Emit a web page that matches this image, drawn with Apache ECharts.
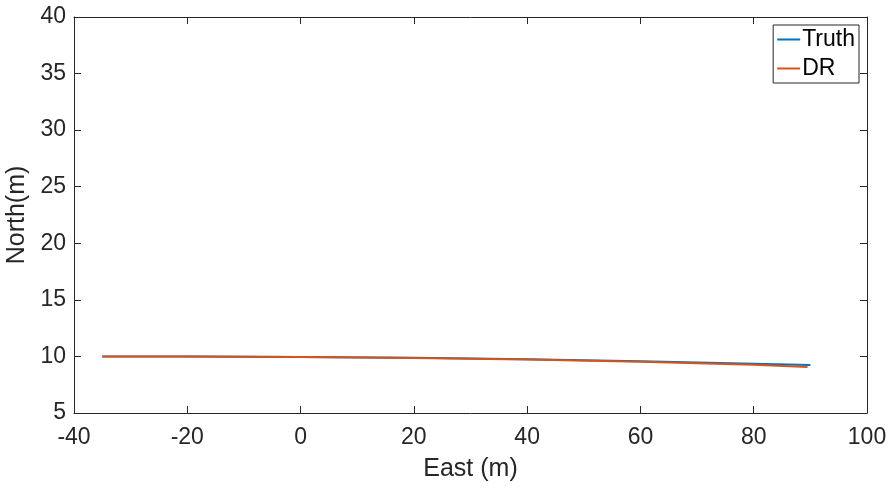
<!DOCTYPE html>
<html>
<head>
<meta charset="utf-8">
<script src="https://cdn.jsdelivr.net/npm/echarts@6/dist/echarts.min.js"></script>
<style>
html,body{margin:0;padding:0;background:#fff;}
#chart{width:894px;height:491px;}
</style>
</head>
<body>
<div id="chart"></div>
<script>
var truthEast = [-35, -20, 0, 20, 40, 60, 80, 90];
var truthNorth = [10.00, 10.00, 9.96, 9.88, 9.76, 9.58, 9.36, 9.24];
var drEast = [-35, -20, 0, 20, 40, 60, 80, 89.5];
var drNorth = [10.00, 10.00, 9.96, 9.87, 9.73, 9.52, 9.26, 9.06];
var seriesNames = ['Truth', 'DR'];

function pairs(xs, ys) { return xs.map(function (x, i) { return [x, ys[i]]; }); }

var axisColor = '#262626';
var font = 'Liberation Sans, Helvetica, Arial, sans-serif';

function axisBase(extra) {
  var a = {
    type: 'value',
    axisLine: { show: true, onZero: false, lineStyle: { color: axisColor, width: 1 } },
    axisTick: { show: true, inside: true, length: 7, lineStyle: { color: axisColor } },
    splitLine: { show: false },
    axisLabel: { color: axisColor, fontSize: 23, fontFamily: font }
  };
  for (var k in extra) a[k] = extra[k];
  return a;
}

var chart = echarts.init(document.getElementById('chart'), null, { renderer: 'canvas' });
chart.setOption({
  animation: false,
  backgroundColor: '#fff',
  grid: { left: 74, right: 27, top: 17, bottom: 78, containLabel: false, outerBoundsMode: 'none' },
  xAxis: [
    axisBase({ position: 'bottom', min: -40, max: 100, interval: 20,
      name: 'East (m)', nameLocation: 'middle', nameGap: 44,
      nameTextStyle: { color: axisColor, fontSize: 25, fontFamily: font },
      axisLabel: { color: axisColor, fontSize: 23, fontFamily: font, margin: 13 } }),
    axisBase({ position: 'top', min: -40, max: 100, interval: 20, axisLabel: { show: false } })
  ],
  yAxis: [
    axisBase({ position: 'left', min: 5, max: 40, interval: 5,
      name: 'North(m)', nameLocation: 'middle', nameGap: 42,
      nameTextStyle: { color: axisColor, fontSize: 25, fontFamily: font },
      axisLabel: { color: axisColor, fontSize: 23, fontFamily: font, margin: 8 } }),
    axisBase({ position: 'right', min: 5, max: 40, interval: 5, axisLabel: { show: false } })
  ],
  legend: {
    orient: 'vertical',
    right: 35,
    top: 25,
    data: seriesNames,
    icon: 'rect',
    itemWidth: 23,
    itemHeight: 2,
    itemGap: 6,
    padding: [3, 4, 3, 4],
    borderColor: axisColor,
    borderWidth: 1,
    borderRadius: 0,
    backgroundColor: '#fff',
    textStyle: { color: '#000', fontSize: 23, fontFamily: font, padding: [0, 0, 0, -3] }
  },
  series: [
    { name: seriesNames[0], type: 'line', showSymbol: false, symbol: 'none',
      data: pairs(truthEast, truthNorth), color: '#0072BD', lineStyle: { width: 2, color: '#0072BD' } },
    { name: seriesNames[1], type: 'line', showSymbol: false, symbol: 'none',
      data: pairs(drEast, drNorth), color: '#D95319', lineStyle: { width: 2, color: '#D95319' } }
  ]
});
</script>
</body>
</html>
